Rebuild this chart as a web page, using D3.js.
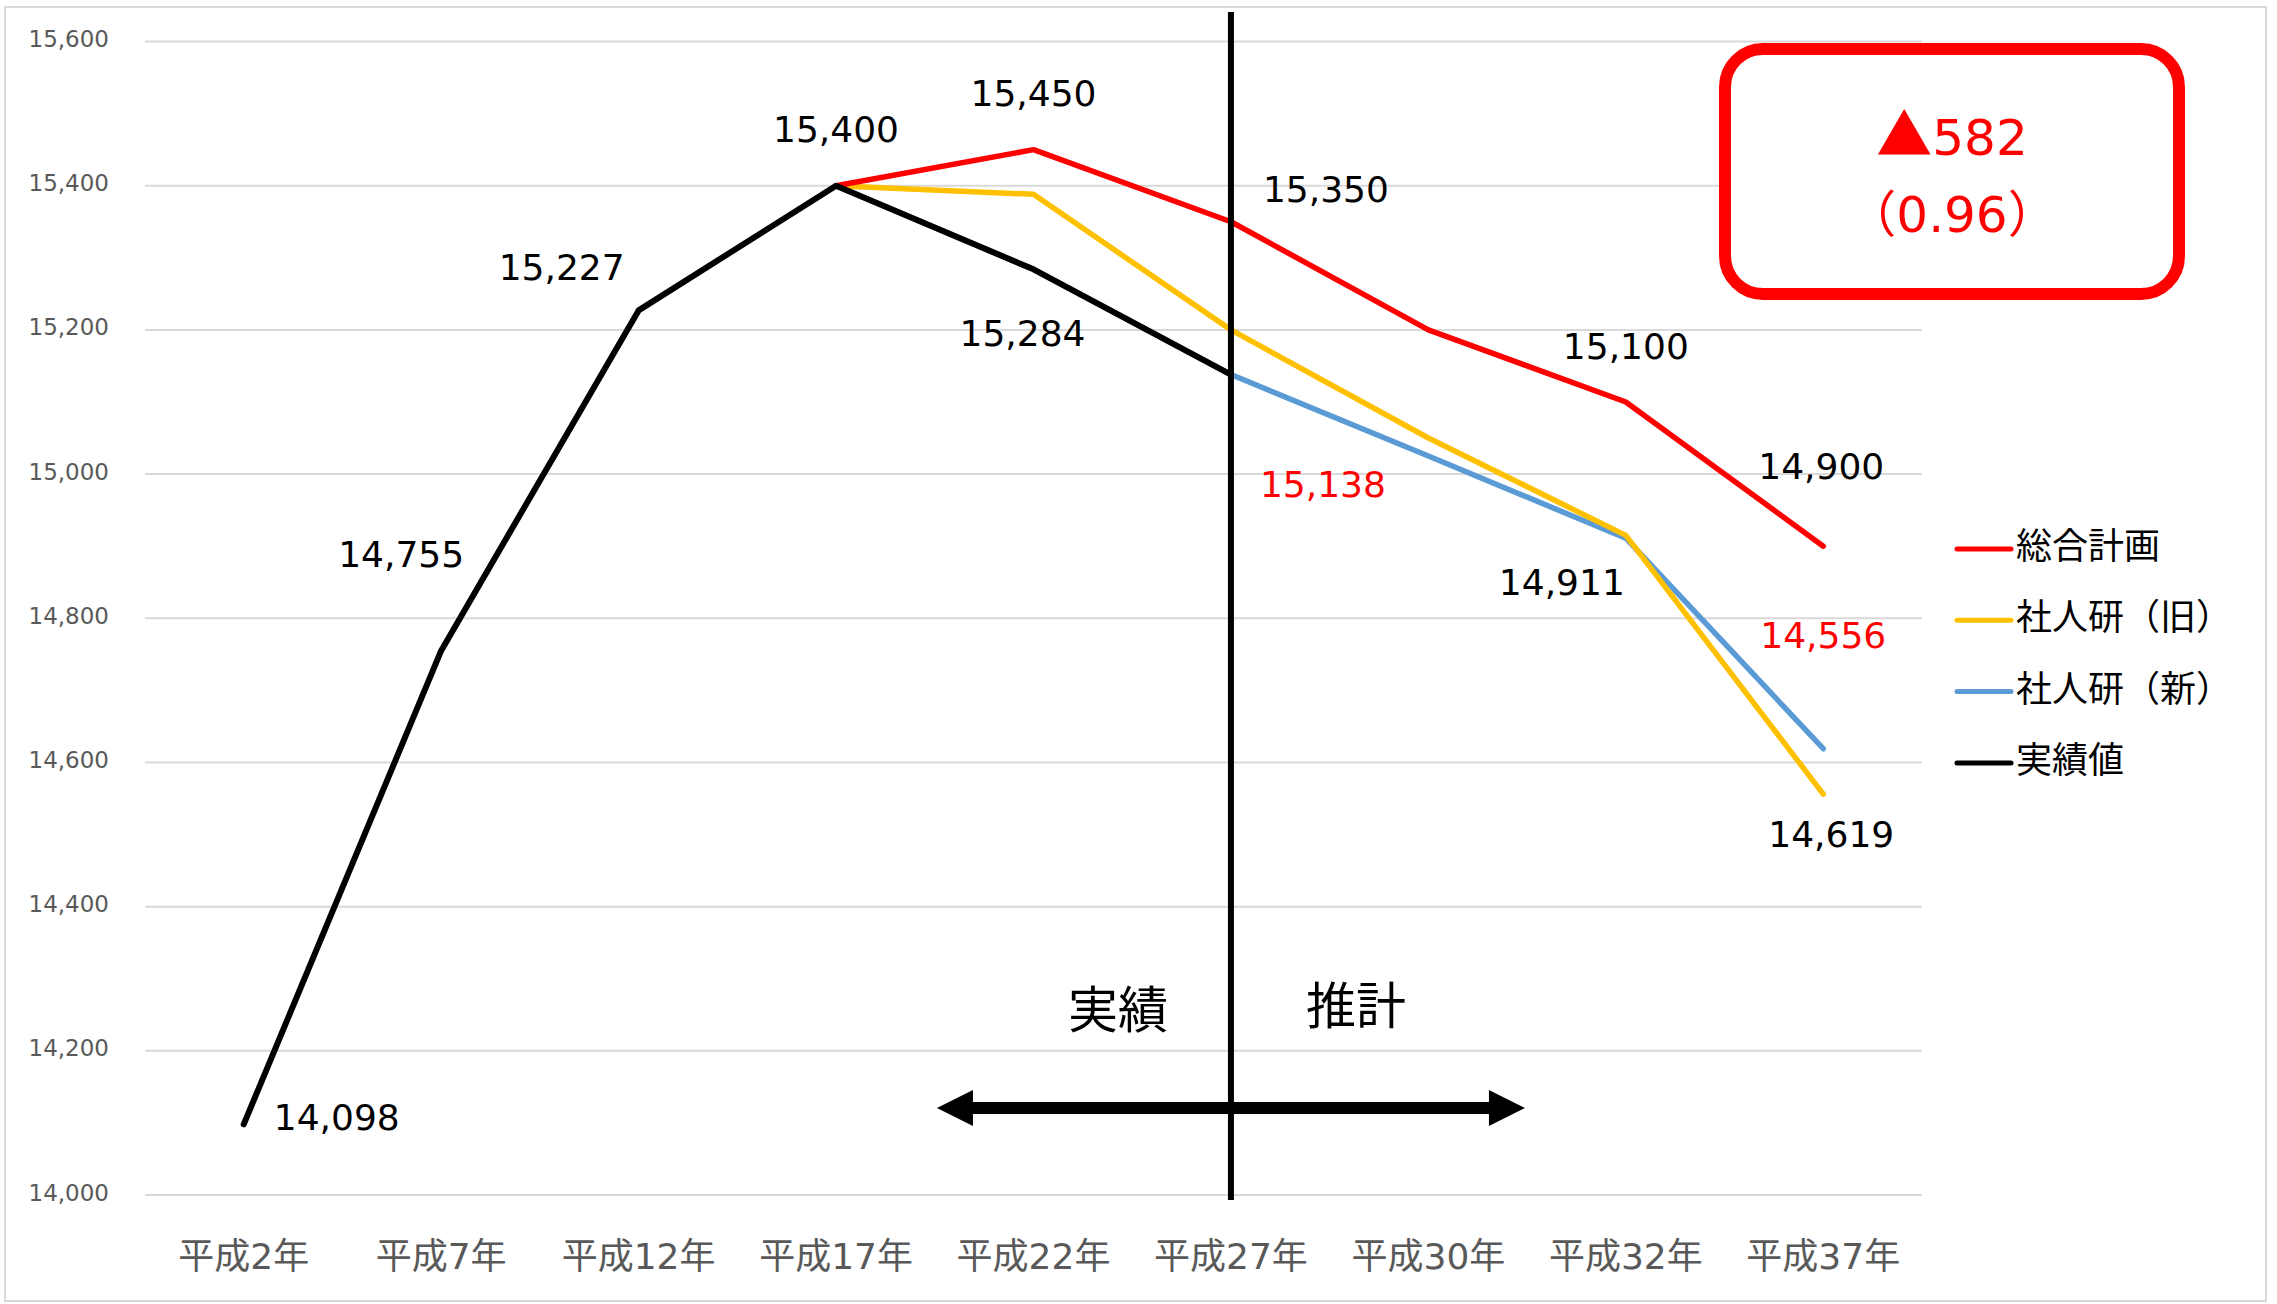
<!DOCTYPE html>
<html>
<head>
<meta charset="utf-8">
<script src="https://cdn.jsdelivr.net/npm/d3@7"></script>
<style>
  html, body { margin: 0; padding: 0; background: #fff; }
  svg { display: block; }
</style>
</head>
<body>
<svg id="chart" width="2277" height="1304"></svg>
<script>
// Categories (fiscal years)
const years = ["平成2年", "平成7年", "平成12年", "平成17年", "平成22年", "平成27年", "平成30年", "平成32年", "平成37年"];
const yTicks = [14000, 14200, 14400, 14600, 14800, 15000, 15200, 15400, 15600];

// Series values (null = no data)
const actual   = [14098, 14755, 15227, 15400, 15284, 15138, null, null, null];   // 実績値
const plan     = [null, null, null, 15400, 15450, 15350, 15200, 15100, 14900];   // 総合計画
const ipssOld  = [null, null, null, 15400, 15388, 15200, 15050, 14915, 14556];   // 社人研（旧）
const ipssNew  = [null, null, null, 15400, 15284, 15138, 15025, 14911, 14619];   // 社人研（新）

const seriesNames = ["総合計画", "社人研（旧）", "社人研（新）", "実績値"];
const seriesColors = ["#FF0000", "#FFC000", "#5B9BD5", "#000000"];

// Value labels: series key, category index, text colour
const valueLabels = [
  { s: "actual", i: 0, color: "#000" },
  { s: "actual", i: 1, color: "#000" },
  { s: "actual", i: 2, color: "#000" },
  { s: "actual", i: 3, color: "#000" },
  { s: "plan",   i: 4, color: "#000" },
  { s: "actual", i: 4, color: "#000" },
  { s: "plan",   i: 5, color: "#000" },
  { s: "actual", i: 5, color: "#FF0000" },
  { s: "plan",   i: 7, color: "#000" },
  { s: "ipssNew", i: 7, color: "#000" },
  { s: "plan",   i: 8, color: "#000" },
  { s: "ipssOld", i: 8, color: "#FF0000" },
  { s: "ipssNew", i: 8, color: "#000" }
];
// Label offsets from their points, in pixels (same order as valueLabels)
const labelOffsets = [
  [93, -7], [-40, -96], [-77, -43], [0, -56], [0, -56], [-11, 64],
  [95, -32], [92, 110], [0, -55], [-64, 44], [-2, -80], [0, -159], [8, 86]
];

const seriesData = { actual, plan, ipssOld, ipssNew };

const svg = d3.select("#chart");
const plot = { left: 145, right: 1922, top: 41.5, bottom: 1195 };

const x = d3.scaleBand().domain(years).range([plot.left, plot.right]).paddingInner(0).paddingOuter(0);
const xc = name => x(name) + x.bandwidth() / 2;
const y = d3.scaleLinear().domain([14000, 15600]).range([plot.bottom, plot.top]);

const latin = "'DejaVu Sans', 'Noto Sans CJK JP', sans-serif";
const cjk = "'Noto Sans CJK JP', sans-serif";

// Outer frame
svg.append("rect")
  .attr("x", 5).attr("y", 7).attr("width", 2261).attr("height", 1294)
  .attr("fill", "#fff").attr("stroke", "#d9d9d9").attr("stroke-width", 2);

// Gridlines
svg.append("g")
  .selectAll("line").data(yTicks).join("line")
  .attr("x1", plot.left).attr("x2", plot.right)
  .attr("y1", d => y(d)).attr("y2", d => y(d))
  .attr("stroke", "#d9d9d9").attr("stroke-width", 2);

// Y axis labels
const yAxis = d3.axisLeft(y).tickValues(yTicks).tickFormat(d3.format(",")).tickSize(0).tickPadding(0);
const yg = svg.append("g").attr("transform", "translate(109,0)").call(yAxis);
yg.select(".domain").remove();
yg.selectAll("text")
  .attr("font-family", latin).attr("font-size", 23).attr("fill", "#595959")
  .attr("dy", "0.22em");

// X axis labels
const xAxis = d3.axisBottom(x).tickSize(0).tickPadding(0);
const xg = svg.append("g").attr("transform", "translate(0,1256)").call(xAxis);
xg.select(".domain").remove();
xg.selectAll("text")
  .attr("font-family", latin).attr("font-size", 36).attr("fill", "#595959")
  .attr("dy", "0.35em");

// Lines
const line = d3.line()
  .defined(d => d.v !== null)
  .x(d => xc(d.c))
  .y(d => y(d.v));
const toPts = arr => arr.map((v, i) => ({ c: years[i], v }));

const drawOrder = [
  { data: ipssNew, color: seriesColors[2] },
  { data: ipssOld, color: seriesColors[1] },
  { data: plan, color: seriesColors[0] },
  { data: actual, color: seriesColors[3] }
];
svg.append("g").selectAll("path").data(drawOrder).join("path")
  .attr("d", d => line(toPts(d.data)))
  .attr("fill", "none")
  .attr("stroke", d => d.color)
  .attr("stroke-width", d => d.color === "#000000" ? 6 : 5.5)
  .attr("stroke-linejoin", "round")
  .attr("stroke-linecap", "round");

// Divider between actual and projection
const divX = xc("平成27年");
svg.append("line")
  .attr("x1", divX).attr("x2", divX).attr("y1", 12).attr("y2", 1200)
  .attr("stroke", "#000").attr("stroke-width", 6);

// Double-headed arrow
const arrowY = 1108, half = 294, head = 36, headH = 18, shaft = 6;
svg.append("path")
  .attr("d", [
    `M${divX - half},${arrowY}`,
    `L${divX - half + head},${arrowY - headH}`,
    `L${divX - half + head},${arrowY - shaft}`,
    `L${divX + half - head},${arrowY - shaft}`,
    `L${divX + half - head},${arrowY - headH}`,
    `L${divX + half},${arrowY}`,
    `L${divX + half - head},${arrowY + headH}`,
    `L${divX + half - head},${arrowY + shaft}`,
    `L${divX - half + head},${arrowY + shaft}`,
    `L${divX - half + head},${arrowY + headH}`,
    "Z"
  ].join(" "))
  .attr("fill", "#000");

svg.append("text").text("実績")
  .attr("x", divX - 113).attr("y", 1006)
  .attr("text-anchor", "middle").attr("dominant-baseline", "central")
  .attr("font-family", cjk).attr("font-size", 50).attr("fill", "#000");
svg.append("text").text("推計")
  .attr("x", divX + 125).attr("y", 1002)
  .attr("text-anchor", "middle").attr("dominant-baseline", "central")
  .attr("font-family", cjk).attr("font-size", 50).attr("fill", "#000");

// Value labels
const fmt = d3.format(",");
svg.append("g").selectAll("text").data(valueLabels).join("text")
  .attr("x", (d, k) => xc(years[d.i]) + labelOffsets[k][0])
  .attr("y", (d, k) => y(seriesData[d.s][d.i]) + labelOffsets[k][1])
  .attr("text-anchor", "middle").attr("dominant-baseline", "central")
  .attr("font-family", latin).attr("font-size", 36)
  .attr("fill", d => d.color)
  .text(d => fmt(seriesData[d.s][d.i]));

// Legend
const legend = svg.append("g").attr("transform", "translate(1957,549)");
const lg = legend.selectAll("g").data(seriesNames).join("g")
  .attr("transform", (d, i) => `translate(0,${i * 71.3})`);
lg.append("line")
  .attr("x1", 0).attr("x2", 54).attr("y1", 0).attr("y2", 0)
  .attr("stroke", (d, i) => seriesColors[i]).attr("stroke-width", 5)
  .attr("stroke-linecap", "round");
lg.append("text")
  .attr("x", 59).attr("y", -6)
  .attr("dominant-baseline", "central")
  .attr("font-family", cjk).attr("font-size", 36).attr("fill", "#000")
  .text(d => d);

// Summary box
const box = svg.append("g");
box.append("rect")
  .attr("x", 1725).attr("y", 49).attr("width", 454).attr("height", 245)
  .attr("rx", 38).attr("ry", 38)
  .attr("fill", "#fff").attr("stroke", "#FF0000").attr("stroke-width", 12);
const t1 = box.append("text")
  .attr("x", 1952).attr("y", 155).attr("text-anchor", "middle")
  .attr("fill", "#FF0000").attr("font-size", 52);
t1.append("tspan").attr("font-family", cjk).attr("font-size", 56).text("▲");
t1.append("tspan").attr("font-family", latin).attr("font-size", 50).text("582");
const t2 = box.append("text")
  .attr("x", 1952).attr("y", 232).attr("text-anchor", "middle")
  .attr("fill", "#FF0000").attr("font-size", 50);
t2.append("tspan").attr("font-family", cjk).text("（");
t2.append("tspan").attr("font-family", latin).text("0.96");
t2.append("tspan").attr("font-family", cjk).text("）");
</script>
</body>
</html>
